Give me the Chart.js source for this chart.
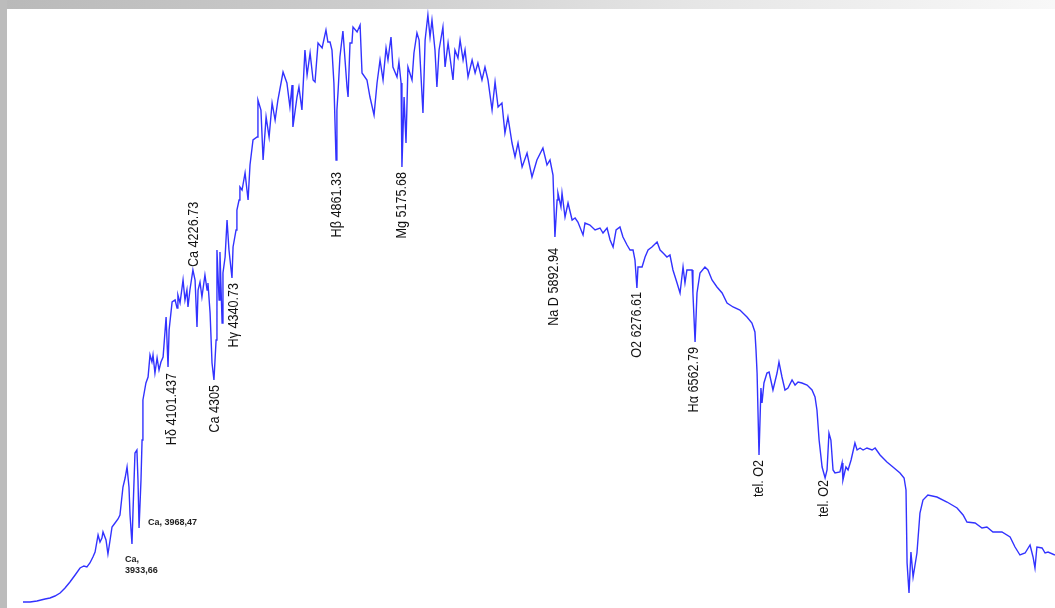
<!DOCTYPE html>
<html>
<head>
<meta charset="utf-8">
<script src="https://cdn.jsdelivr.net/npm/chart.js@4.4.1/dist/chart.umd.min.js"></script>
<style>
  html, body { margin:0; padding:0; background:#ffffff; width:1055px; height:608px; overflow:hidden; }
  #frameTop { position:absolute; left:0; top:0; width:1055px; height:9px;
    background:linear-gradient(to right, #b9b9b9 0%, #cdcdcd 35%, #e6e6e6 66%, #f8f8f8 100%); }
  #frameLeft { position:absolute; left:0; top:0; width:7px; height:608px; background:#bcbcbc; }
  #wrap { position:absolute; left:7px; top:9px; width:1048px; height:599px; }
</style>
</head>
<body>
<div id="frameTop"></div>
<div id="frameLeft"></div>
<div id="wrap"><canvas id="c"></canvas></div>
<script>
// Spectrum: wavelength (Å, approximate calibration) and relative intensity
const wavelength = [
  3432,3465,3497,3535,3558,3581,3605,3628,3651,3675,
  3698,3716,3730,3744,3758,3768,3782,3791,3800,3805,
  3819,3828,3838,3847,3861,3875,3884,3898,3908,3917,
  3926,3931,3940,3945,3954,3963,3968,3973,3982,3987,
  3991,4005,4015,4024,4033,4038,4047,4057,4066,4075,
  4085,4099,4108,4113,4127,4141,4150,4154,4164,4178,
  4187,4196,4201,4210,4224,4234,4243,4248,4257,4266,
  4280,4290,4294,4304,4313,4322,4332,4336,4346,4350,
  4360,4364,4374,4383,4392,4406,4411,4425,4429,4439,
  4443,4453,4467,4481,4490,4504,4523,4527,4541,4551,
  4565,4579,4593,4607,4620,4644,4662,4676,4686,4690,
  4709,4718,4732,4746,4756,4770,4784,4793,4807,4826,
  4844,4853,4863,4872,4881,4891,4895,4900,4909,4923,
  4942,4947,4956,4965,4970,4989,5003,5012,5035,5049,
  5068,5082,5096,5110,5124,5133,5147,5156,5175,5184,
  5194,5198,5208,5217,5226,5245,5254,5268,5278,5296,
  5306,5319,5329,5338,5352,5361,5371,5389,5399,5413,
  5436,5445,5459,5469,5483,5492,5506,5525,5539,5552,
  5571,5585,5599,5618,5632,5646,5664,5678,5692,5711,
  5725,5739,5758,5781,5804,5827,5855,5874,5888,5902,
  5911,5921,5925,5939,5944,5958,5972,5991,6005,6018,
  6042,6051,6074,6098,6121,6135,6154,6168,6182,6196,
  6214,6228,6247,6261,6275,6284,6293,6298,6317,6331,
  6345,6363,6387,6401,6415,6433,6447,6461,6480,6494,
  6508,6517,6526,6536,6550,6554,6564,6573,6587,6610,
  6624,6643,6666,6690,6713,6741,6773,6806,6829,6843,
  6848,6853,6862,6871,6876,6885,6899,6909,6927,6946,
  6955,6969,6983,6997,7016,7030,7044,7062,7086,7109,
  7123,7132,7142,7156,7170,7179,7188,7197,7207,7216,
  7239,7249,7253,7267,7277,7291,7309,7319,7333,7347,
  7365,7389,7403,7426,7458,7486,7519,7538,7547,7552,
  7561,7570,7580,7598,7612,7626,7649,7691,7738,7785,
  7813,7831,7869,7901,7924,7952,7994,8032,8055,8078,
  8102,8125,8139,8148,8157,8181,8195,8209,8241
];
const intensity = [
  6,6,7,9,10,12,15,20,26,33,
  40,42,41,45,51,56,73,66,70,76,
  68,54,68,81,85,89,93,121,130,141,
  121,93,64,98,155,158,128,80,128,168,
  208,225,231,253,246,253,235,250,238,246,
  251,291,241,278,306,308,300,313,305,328,
  308,318,301,318,338,328,281,318,326,311,
  333,318,325,295,245,228,268,358,308,356,
  285,335,351,388,358,330,361,378,398,408,
  421,418,435,408,443,468,471,508,498,448,
  491,471,505,488,508,536,525,501,523,481,
  511,521,498,558,533,555,528,526,565,560,
  578,566,566,558,525,448,498,515,551,577,
  521,511,565,565,581,576,583,535,528,511,
  493,525,548,528,560,548,571,541,531,546,
  525,441,511,465,541,528,555,575,568,495,
  568,593,571,588,558,521,558,581,541,565,
  528,558,550,568,548,558,531,548,535,545,
  528,541,528,498,526,501,505,475,491,465,
  451,465,441,455,431,448,460,443,448,433,
  371,408,415,401,415,391,405,388,390,386,
  373,385,383,378,380,375,380,368,361,378,
  381,371,363,358,358,348,320,341,341,351,
  358,361,366,358,355,351,353,338,325,315,
  341,325,338,338,338,315,266,315,335,341,
  338,328,321,315,305,301,298,291,285,276,
  258,235,153,220,205,225,235,236,218,235,
  246,231,218,220,228,223,226,225,223,218,
  211,198,168,141,130,138,175,168,138,135,
  136,145,128,141,138,148,165,158,160,158,
  160,158,160,153,146,141,135,130,118,45,
  15,56,31,55,95,108,113,111,106,100,
  93,86,85,80,81,76,76,71,61,53,
  55,63,51,40,61,60,55,56,53
];

// Line identifications (vertical labels)
const lineNames      = ['Hδ 4101.437','Ca 4305','Ca 4226.73','Hγ 4340.73','Hβ 4861.33','Mg 5175.68','Na D 5892.94','O2 6276.61','Hα 6562.79','tel. O2','tel. O2'];
const lineWavelength = [4127, 4327, 4229, 4415, 4895, 5198, 5907, 6293, 6559, 6862, 7165];
const lineIntensity  = [235, 223, 341, 325, 436, 436, 360, 316, 261, 148, 128];
const lineSide       = ['below','below','above','below','below','below','below','below','below','below','below'];

// Ca H & K notes (horizontal labels)
const noteLines      = [['Ca, 3968,47'], ['Ca,', '3933,66']];
const noteWavelength = [4015, 3908];
const noteIntensity  = [[85], [48, 37]];

const X_MIN = 3357.6, X_MAX = 8241.3, Y_MIN = 0, Y_MAX = 599;

const labelPlugin = {
  id: 'lineLabels',
  afterDatasetsDraw(chart) {
    const ctx = chart.ctx, xs = chart.scales.x, ys = chart.scales.y;
    ctx.save();
    ctx.fillStyle = '#111';
    ctx.font = '14px "Liberation Sans", Arial, sans-serif';
    ctx.textBaseline = 'middle';
    lineNames.forEach((t, i) => {
      const px = xs.getPixelForValue(lineWavelength[i]);
      const py = ys.getPixelForValue(lineIntensity[i]);
      ctx.save();
      ctx.translate(px, py);
      ctx.rotate(-Math.PI / 2);
      ctx.scale(0.9, 1);
      ctx.textAlign = lineSide[i] === 'below' ? 'right' : 'left';
      ctx.fillText(t, 0, 0);
      ctx.restore();
    });
    ctx.fillStyle = '#222';
    ctx.font = 'bold 9px "Liberation Sans", Arial, sans-serif';
    ctx.textAlign = 'left';
    noteLines.forEach((lines, i) => {
      const px = xs.getPixelForValue(noteWavelength[i]);
      lines.forEach((t, j) => {
        ctx.fillText(t, px, ys.getPixelForValue(noteIntensity[i][j]));
      });
    });
    ctx.restore();
  }
};

new Chart(document.getElementById('c'), {
  type: 'line',
  data: {
    datasets: [{
      data: wavelength.map((w, i) => ({ x: w, y: intensity[i] })),
      borderColor: '#3232ff',
      borderWidth: 1.4,
      pointRadius: 0,
      tension: 0,
      fill: false,
      clip: false
    }]
  },
  options: {
    responsive: true,
    maintainAspectRatio: false,
    animation: false,
    layout: { padding: 0 },
    plugins: { legend: { display: false }, tooltip: { enabled: false } },
    scales: {
      x: { type: 'linear', min: X_MIN, max: X_MAX, display: false },
      y: { min: Y_MIN, max: Y_MAX, display: false }
    }
  },
  plugins: [labelPlugin]
});
</script>
</body>
</html>
